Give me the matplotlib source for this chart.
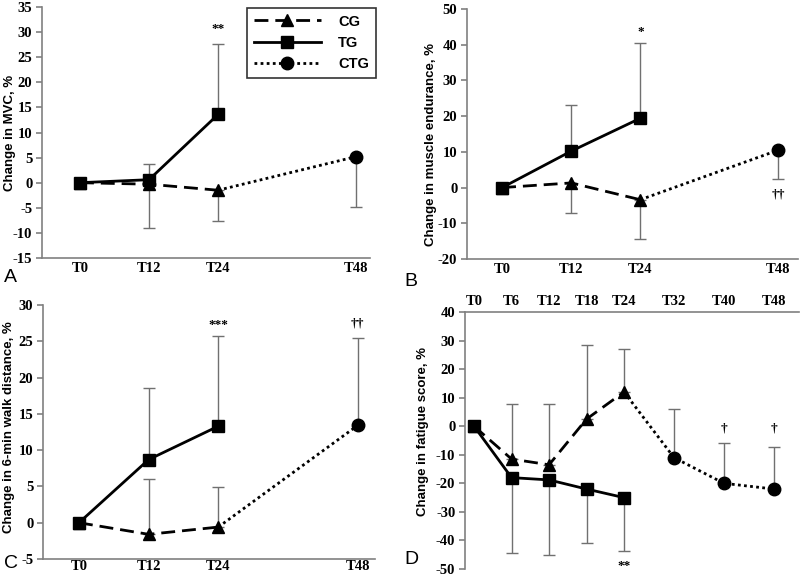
import matplotlib
matplotlib.use("Agg")
import matplotlib.pyplot as plt
from matplotlib.lines import Line2D

plt.rcParams["axes.unicode_minus"] = False

# --- data ---
# panels A-C share the time points T0, T12, T24 (TG / CG) and T24 -> T48 (CTG)
t_short = [0, 12, 24]
t_ctg = [24, 48]
t_labels = ["T0", "T12", "T24", "T48"]
t_ticks = [0, 12, 24, 48]

# A: change in MVC
a_cg = [0, -0.3, -1.5]
a_cg_err = [0, 8.7, 6.2]          # downward
a_tg = [0, 0.6, 13.6]
a_tg_err = [0, 3.2, 14.0]         # upward
a_ctg = [-1.5, 5.2]
a_ctg_err = [0, 10.0]             # downward

# B: change in muscle endurance
b_cg = [0, 1.3, -3.4]
b_cg_err = [0, 8.3, 11.0]         # downward
b_tg = [0, 10.2, 19.4]
b_tg_err = [0, 13.0, 21.0]        # upward
b_ctg = [-3.4, 10.5]
b_ctg_err = [0, 8.0]              # downward

# C: change in 6-min walk distance
c_cg = [0, -1.6, -0.6]
c_cg_err = [0, 7.6, 5.5]          # upward
c_tg = [0, 8.7, 13.3]
c_tg_err = [0, 9.9, 12.4]         # upward
c_ctg = [-0.6, 13.4]
c_ctg_err = [0, 12.0]             # upward

# D: change in fatigue score
d_t = [0, 6, 12, 18, 24]
d_t_ctg = [24, 32, 40, 48]
d_labels = ["T0", "T6", "T12", "T18", "T24", "T32", "T40", "T48"]
d_ticks = [0, 6, 12, 18, 24, 32, 40, 48]
d_cg = [0, -11.5, -13.5, 2.5, 12.0]
d_cg_err = [0, 19.2, 21.2, 26.0, 15.2]      # upward
d_tg = [0, -18.0, -18.8, -22.0, -25.0]
d_tg_err = [0, 26.5, 26.3, 19.0, 18.8]      # downward
d_ctg = [12.0, -11.0, -20.0, -22.0]
d_ctg_err = [0, 17.2, 14.2, 14.6]           # upward

# --- styles ---
ERR_COLOR = "#707070"
SPINE_COLOR = "#808080"
SERIF = "Liberation Serif"
SANS = "Liberation Sans"
TICKFONT = dict(fontfamily=SERIF, fontweight="bold", fontsize=10.5)
cg_style = dict(color="black", lw=2.0, ls=(0, (5, 2.5)), marker="^", ms=8.5)
tg_style = dict(color="black", lw=2.0, ls="-", marker="s", ms=8.5)
ctg_style = dict(color="black", lw=2.0, ls=(0, (1, 1.2)), marker="o", ms=9)


def errbar(ax, x, y, err, up=True):
    keep = [i for i, e in enumerate(err) if e > 0]
    xs = [x[i] for i in keep]
    ys = [y[i] for i in keep]
    es = [err[i] for i in keep]
    zeros = [0] * len(es)
    yerr = [zeros, es] if up else [es, zeros]
    ax.errorbar(xs, ys, yerr=yerr, fmt="none", ecolor=ERR_COLOR,
                elinewidth=1.0, capsize=4, capthick=1.0, zorder=1)


def style_axes(ax, ylim, ystep, xlim, ticks, labels, top=False, xpad=5):
    ax.set_xlim(*xlim)
    ax.set_ylim(*ylim)
    ax.spines["right"].set_visible(False)
    if top:
        ax.spines["bottom"].set_visible(False)
        ax.xaxis.tick_top()
    else:
        ax.spines["top"].set_visible(False)
    yt = list(range(ylim[0], ylim[1] + 1, ystep))
    ax.set_yticks(yt)
    ax.set_yticklabels([str(v) for v in yt], **TICKFONT)
    ax.set_xticks(ticks)
    ax.set_xticklabels(labels, **TICKFONT)
    for s in ax.spines.values():
        s.set_color(SPINE_COLOR)
        s.set_linewidth(1.2)
    ax.tick_params(axis="x", length=0, pad=xpad)
    ax.tick_params(axis="y", length=4, width=1.2, color=SPINE_COLOR, pad=3)


def ylabel(fig, x, y, text):
    fig.text(x / 800, 1 - y / 578, text, rotation=90, ha="center", va="center",
             fontfamily=SANS, fontweight="bold", fontsize=9.5)


def panel_letter(fig, x, y, text):
    fig.text(x / 800, 1 - y / 578, text, ha="left", va="center",
             fontfamily=SANS, fontsize=14)


def sig(ax, x, y, text):
    ax.text(x, y, text, ha="center", va="center", fontfamily=SERIF,
            fontweight="bold", fontsize=9.5)


fig = plt.figure(figsize=(8, 5.78), dpi=100)

def make_axes(l, t, r, b):
    return fig.add_axes([l / 800, 1 - b / 578, (r - l) / 800, (b - t) / 578])

# --- A ---
ax = make_axes(42, 7, 370, 258)
errbar(ax, t_short, a_tg, a_tg_err, up=True)
errbar(ax, t_short, a_cg, a_cg_err, up=False)
errbar(ax, t_ctg, a_ctg, a_ctg_err, up=False)
ax.plot(t_ctg, a_ctg, markevery=[1], **ctg_style)
ax.plot(t_short, a_cg, **cg_style)
ax.plot(t_short, a_tg, **tg_style)
style_axes(ax, (-15, 35), 5, (-6.6, 50.4), t_ticks, t_labels, xpad=3)
sig(ax, 24, 30.6, "**")
handles = [Line2D([], [], **cg_style), Line2D([], [], **tg_style),
           Line2D([], [], **ctg_style)]
leg = fig.legend(handles, ["CG", "TG", "CTG"], loc="upper left",
                 bbox_to_anchor=(247 / 800, 1 - 8 / 578), borderaxespad=0,
                 frameon=True, fancybox=False, edgecolor="black",
                 handlelength=4.6, handletextpad=1.2, borderpad=0.45,
                 labelspacing=0.5,
                 prop=dict(family=SANS, weight="bold", size=10.5))
leg.get_frame().set_linewidth(1.2)
ylabel(fig, 10, 133, "Change in MVC, %")
panel_letter(fig, 4, 278, "A")

# --- B ---
ax = make_axes(467, 9, 798, 259)
errbar(ax, t_short, b_tg, b_tg_err, up=True)
errbar(ax, t_short, b_cg, b_cg_err, up=False)
errbar(ax, t_ctg, b_ctg, b_ctg_err, up=False)
ax.plot(t_ctg, b_ctg, markevery=[1], **ctg_style)
ax.plot(t_short, b_cg, **cg_style)
ax.plot(t_short, b_tg, **tg_style)
style_axes(ax, (-20, 50), 10, (-6.1, 51.4), t_ticks, t_labels, xpad=3)
sig(ax, 24, 43.5, "*")
sig(ax, 48, -2.0, "††")
ylabel(fig, 431, 145, "Change in muscle endurance, %")
panel_letter(fig, 404, 282, "B")

# --- C ---
ax = make_axes(43, 305, 375, 559)
errbar(ax, t_short, c_tg, c_tg_err, up=True)
errbar(ax, t_short, c_cg, c_cg_err, up=True)
errbar(ax, t_ctg, c_ctg, c_ctg_err, up=True)
ax.plot(t_ctg, c_ctg, markevery=[1], **ctg_style)
ax.plot(t_short, c_cg, **cg_style)
ax.plot(t_short, c_tg, **tg_style)
style_axes(ax, (-5, 30), 5, (-6.2, 51.0), t_ticks, t_labels, xpad=1)
sig(ax, 24, 27.3, "***")
sig(ax, 48, 27.5, "††")
ylabel(fig, 9, 427, "Change in 6-min walk distance, %")
panel_letter(fig, 4, 563, "C")

# --- D ---
ax = make_axes(465, 312, 799, 569)
errbar(ax, d_t, d_cg, d_cg_err, up=True)
errbar(ax, d_t, d_tg, d_tg_err, up=False)
errbar(ax, d_t_ctg, d_ctg, d_ctg_err, up=True)
ax.plot(d_t_ctg, d_ctg, markevery=[1, 2, 3], **ctg_style)
ax.plot(d_t, d_cg, **cg_style)
ax.plot(d_t, d_tg, **tg_style)
style_axes(ax, (-50, 40), 10, (-1.45, 52.0), d_ticks, d_labels, top=True,
           xpad=3)
sig(ax, 24, -49.0, "**")
sig(ax, 40, -0.8, "†")
sig(ax, 48, -0.8, "†")
ylabel(fig, 423, 432, "Change in fatigue score, %")
panel_letter(fig, 404, 560, "D")

fig.savefig("out.png", dpi=100)
